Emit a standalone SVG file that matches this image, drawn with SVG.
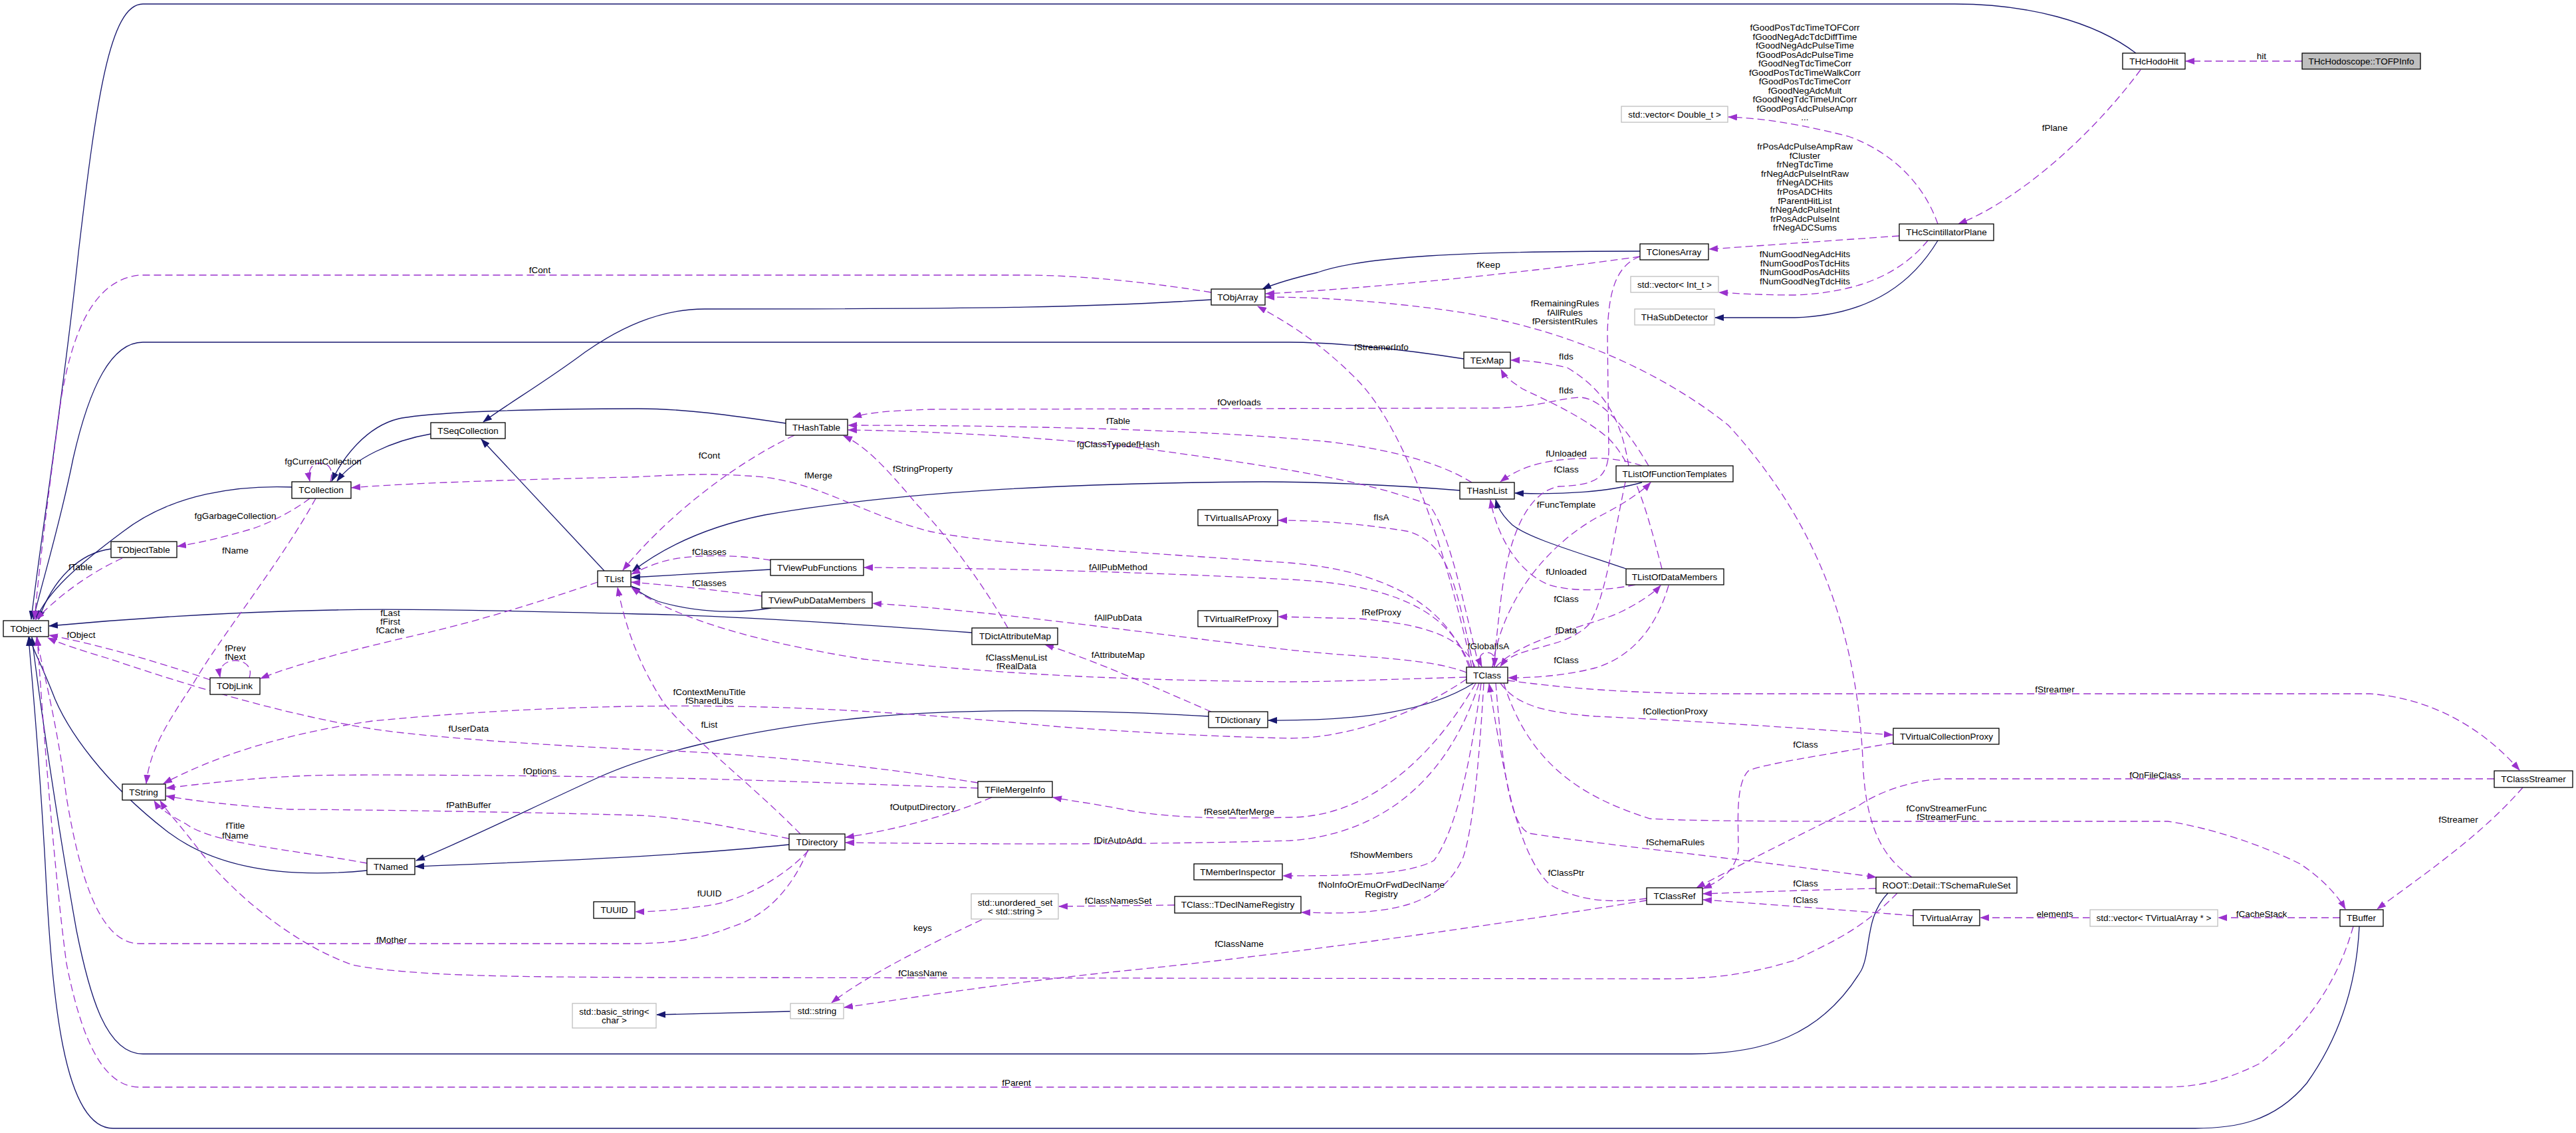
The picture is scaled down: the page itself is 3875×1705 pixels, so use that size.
<svg xmlns="http://www.w3.org/2000/svg" width="3875" height="1705" viewBox="0 0 3875 1705">
<defs>
<marker id="ab" viewBox="0 0 14 10" refX="13" refY="5" markerWidth="14" markerHeight="10" markerUnits="userSpaceOnUse" orient="auto"><path d="M0,0 L14,5 L0,10 z" fill="#191970" stroke="none"/></marker>
<marker id="ap" viewBox="0 0 14 10" refX="13" refY="5" markerWidth="14" markerHeight="10" markerUnits="userSpaceOnUse" orient="auto"><path d="M0,0 L14,5 L0,10 z" fill="#9a32cd" stroke="none"/></marker>
<style>
text{font-family:"Liberation Sans",Arial,Helvetica,sans-serif;font-size:13.5px;fill:#000;text-anchor:middle}
.n rect{fill:#fff;stroke:#000;stroke-width:1.3}
.g rect{fill:#fff;stroke:#bfbfbf;stroke-width:1.3}
.h rect{fill:#bfbfbf;stroke:#000;stroke-width:1.3}
.inh{fill:none;stroke:#191970;stroke-width:1.3;marker-end:url(#ab)}
.use{fill:none;stroke:#9a32cd;stroke-width:1.3;stroke-dasharray:11,6;marker-end:url(#ap)}
</style>
</defs>
<rect width="3875" height="1705" fill="#fff"/>
<g id="connectors">
<path class="inh" d="M3213,80 C3150,32 3050,6 2940,6 L215,6 C165,6 145,150 118,380 C95,600 60,820 47,932"/>
<path class="inh" d="M2202,540 C2100,524 2000,515 1940,515 L215,515 C168,515 135,580 110,690 C90,790 65,870 50,932"/>
<path class="inh" d="M1822,451 C1650,462 1500,465 1060,465 C990,465 930,495 880,530 C820,575 760,610 727,635"/>
<path class="inh" d="M2467,378 C2200,378 2050,386 1982,410 C1940,420 1915,428 1899,435"/>
<path class="inh" d="M2915,362 C2880,420 2820,474 2700,478 L2580,478"/>
<path class="inh" d="M1182,637 C1100,625 1030,615 960,615 C800,615 650,620 600,630 C550,642 515,690 499,724"/>
<path class="inh" d="M648,653 C590,663 532,690 507,724"/>
<path class="inh" d="M439,733 C360,730 260,742 185,800 C115,852 72,890 54,932"/>
<path class="inh" d="M167,826 C120,832 80,870 58,932"/>
<path class="inh" d="M909,859 L724,661"/>
<path class="inh" d="M2196,738 C2100,730 1980,725 1900,725 C1600,727 1350,740 1150,775 C1050,795 990,830 951,860"/>
<path class="inh" d="M1159,857 L950,869"/>
<path class="inh" d="M1160,915 C1100,925 1040,920 990,905 C972,898 960,890 950,882"/>
<path class="inh" d="M1462,952 C1300,940 1100,926 960,924 C800,920 600,915 500,918 C300,922 150,935 74,942"/>
<path class="inh" d="M1818,1078 C1650,1068 1450,1065 1300,1080 C1150,1095 1000,1125 900,1170 C780,1225 700,1265 626,1295"/>
<path class="inh" d="M2217,1028 C2150,1070 2050,1085 1908,1084"/>
<path class="inh" d="M552,1310 C470,1318 340,1320 250,1250 C160,1180 100,1100 78,1040 C60,995 50,978 44,959"/>
<path class="inh" d="M1187,1271 C1000,1290 800,1297 625,1304"/>
<path class="inh" d="M2840,1344 C2805,1380 2815,1430 2800,1460 C2740,1560 2650,1586 2545,1586 L215,1586 C160,1586 135,1500 115,1400 C90,1260 60,1060 48,959"/>
<path class="inh" d="M3549,1394 C3545,1480 3520,1560 3470,1630 C3420,1690 3360,1698 3300,1698 L170,1698 C95,1698 78,1500 68,1300 C58,1120 46,1000 43,959"/>
<path class="inh" d="M2470,726 C2420,740 2350,745 2279,742"/>
<path class="inh" d="M2446,856 C2370,830 2300,810 2275,790 C2260,776 2253,765 2250,752"/>
<path class="inh" d="M1189,1522 L988,1527"/>

<path class="use" d="M3463,92 L3288,92"/>
<path class="use" d="M3220,105 C3150,200 3040,300 2946,337"/>
<path class="use" d="M2915,337 C2895,280 2850,230 2780,205 C2700,185 2650,178 2600,176"/>
<path class="use" d="M2857,355 L2571,375"/>
<path class="use" d="M2900,362 C2860,410 2800,440 2700,444 C2650,444 2620,442 2586,440"/>
<path class="use" d="M2467,386 C2300,410 2050,435 1904,442"/>
<path class="use" d="M2876,1320 C2830,1290 2805,1240 2802,1140 C2790,900 2700,750 2600,640 C2500,560 2350,490 2170,466 C2050,450 1960,447 1904,447"/>
<path class="use" d="M2214,1004 C2180,850 2120,650 2040,570 C1980,510 1930,482 1892,461"/>
<path class="use" d="M1822,440 C1700,420 1600,414 1540,414 L210,414 C150,420 112,480 92,600 C72,750 58,860 52,932"/>
<path class="use" d="M2480,701 C2450,650 2410,598 2376,598 C2340,600 2320,612 2250,614 L1400,616 C1340,618 1310,620 1283,628"/>
<path class="use" d="M2214,726 C2180,705 2120,680 2000,665 C1800,645 1500,640 1276,640"/>
<path class="use" d="M2225,1004 C2200,900 2180,800 2150,760 C2050,720 1900,700 1700,672 C1500,652 1350,648 1276,647"/>
<path class="use" d="M1195,655 C1100,700 1000,780 937,858"/>
<path class="use" d="M1516,945 C1480,880 1420,800 1380,760 C1330,700 1300,670 1269,656"/>
<path class="use" d="M2210,1004 C2180,920 2100,860 1940,847 C1700,830 1500,820 1400,800 C1300,775 1240,730 1150,718 C1060,710 1000,716 950,718 C750,722 600,728 529,734"/>
<path class="use" d="M1159,843 C1100,833 1030,835 997,845 C975,852 962,858 950,864"/>
<path class="use" d="M1146,897 C1080,888 1000,880 950,876"/>
<path class="use" d="M2212,1004 C2180,920 2100,880 1940,872 C1700,860 1500,855 1300,854"/>
<path class="use" d="M2206,1012 C2150,990 2050,990 1940,978 C1700,950 1500,920 1313,908"/>
<path class="use" d="M2217,1004 C2190,880 2180,820 2120,800 C2050,788 1980,783 1923,783"/>
<path class="use" d="M2219,1004 C2200,960 2150,940 2045,931 L1923,928"/>
<path class="use" d="M2206,1019 C2100,1022 2000,1026 1940,1026 C1700,1024 1500,1015 1300,992 C1100,960 1000,920 950,884"/>
<path class="use" d="M1822,1071 C1750,1040 1650,995 1572,970"/>
<path class="use" d="M2206,1022 C2150,1060 2050,1110 1940,1111 C1800,1108 1650,1098 1585,1093 C1450,1080 1300,1068 1150,1064 C1000,1060 800,1062 560,1085 C420,1105 320,1140 246,1179"/>
<path class="use" d="M1471,1178 C1300,1150 1100,1132 960,1128 C800,1120 650,1110 560,1097 C400,1070 250,1020 160,990 C110,975 88,967 72,960"/>
<path class="use" d="M1204,1255 C1130,1180 1050,1120 1000,1060 C960,1000 940,940 929,884"/>
<path class="use" d="M1215,1280 C1190,1340 1150,1380 1100,1395 C1050,1415 1000,1420 950,1420 L210,1420 C150,1420 120,1320 100,1200 C85,1080 62,1000 55,959"/>
<path class="use" d="M1216,1280 C1180,1320 1110,1360 1054,1364 C1010,1370 980,1372 956,1372"/>
<path class="use" d="M1187,1262 C1100,1245 1030,1230 960,1227 C800,1222 500,1218 437,1218 C350,1212 290,1205 250,1198"/>
<path class="use" d="M1471,1186 C1300,1180 1100,1172 960,1170 C800,1167 550,1165 470,1167 C380,1170 300,1180 250,1186"/>
<path class="use" d="M1492,1200 C1420,1230 1340,1250 1272,1260"/>
<path class="use" d="M2220,1028 C2150,1150 2050,1230 1940,1230 C1850,1232 1770,1232 1700,1220 C1650,1210 1610,1205 1584,1200"/>
<path class="use" d="M2225,1028 C2170,1200 2050,1258 1940,1265 C1700,1272 1450,1270 1272,1268"/>
<path class="use" d="M2228,1028 C2212,1150 2190,1250 2157,1295 C2120,1315 2050,1318 1930,1318"/>
<path class="use" d="M2232,1028 C2225,1150 2215,1250 2201,1290 C2170,1360 2100,1374 2000,1374 L1958,1373"/>
<path class="use" d="M1767,1362 L1593,1364"/>
<path class="use" d="M1477,1384 C1400,1420 1300,1470 1251,1509"/>
<path class="use" d="M2477,1355 C2200,1400 1900,1440 1700,1460 C1500,1480 1350,1505 1270,1516"/>
<path class="use" d="M2854,1344 C2800,1400 2750,1420 2700,1445 C2620,1470 2560,1473 2500,1473 L980,1471 C800,1470 620,1470 530,1452 C440,1420 350,1344 300,1280 C270,1240 250,1220 241,1205"/>
<path class="use" d="M552,1299 C450,1280 320,1270 280,1240 C252,1225 238,1215 232,1205"/>
<path class="use" d="M475,750 C420,850 330,960 290,1030 C250,1090 225,1130 220,1179"/>
<path class="use" d="M466,750 C440,770 400,790 375,797 C330,810 295,818 267,822"/>
<path class="use" d="M497,725 C503,702 491,697 482,697 C471,697 462,705 466,724"/>
<path class="use" d="M184,840 C150,855 100,885 54,932"/>
<path class="use" d="M316,1023 C250,1000 150,970 74,956"/>
<path class="use" d="M375,1020 C381,1002 366,994 354,994 C340,994 328,1003 331,1019"/>
<path class="use" d="M899,876 C800,910 700,940 625,956 C500,985 430,1005 392,1021"/>
<path class="use" d="M2450,701 C2440,640 2420,590 2357,553 C2320,545 2295,542 2273,542"/>
<path class="use" d="M2500,856 C2480,780 2460,700 2420,660 C2380,625 2320,600 2290,585 C2272,573 2263,566 2258,556"/>
<path class="use" d="M2470,701 C2440,690 2400,688 2389,690 C2330,690 2290,700 2257,725"/>
<path class="use" d="M2467,386 C2430,400 2420,440 2418,500 L2420,680 C2418,720 2400,730 2345,732 C2300,740 2270,800 2258,900 C2252,950 2249,980 2248,1003"/>
<path class="use" d="M2245,1004 C2260,900 2330,820 2400,780 C2440,760 2470,740 2483,726"/>
<path class="use" d="M2460,880 C2420,888 2370,892 2330,880 C2280,860 2250,800 2242,752"/>
<path class="use" d="M2445,725 C2425,820 2415,900 2390,940 C2350,980 2280,970 2257,1003"/>
<path class="use" d="M2250,1004 C2290,960 2400,940 2440,920 C2470,905 2490,890 2498,881"/>
<path class="use" d="M2510,881 C2490,950 2450,990 2400,1005 C2350,1018 2300,1020 2269,1020"/>
<path class="use" d="M2268,1024 C2350,1035 2450,1044 2600,1044 L3565,1044 C3650,1050 3730,1090 3790,1159"/>
<path class="use" d="M2257,1028 C2280,1060 2320,1072 2400,1078 C2550,1085 2700,1095 2847,1106"/>
<path class="use" d="M2848,1118 C2750,1135 2650,1150 2630,1160 C2610,1180 2615,1240 2615,1280 C2610,1310 2590,1325 2562,1337"/>
<path class="use" d="M2262,1028 C2300,1150 2380,1200 2482,1232 C2550,1236 2700,1236 2900,1236 L3261,1236 C3350,1250 3430,1285 3460,1300 C3490,1320 3515,1345 3528,1368"/>
<path class="use" d="M3795,1185 C3730,1260 3640,1320 3576,1368"/>
<path class="use" d="M3752,1172 L2920,1172 C2870,1175 2820,1195 2795,1213 C2700,1260 2620,1300 2552,1336"/>
<path class="use" d="M2822,1337 C2700,1340 2620,1343 2562,1345"/>
<path class="use" d="M2878,1378 C2780,1370 2650,1360 2562,1354"/>
<path class="use" d="M3144,1381 L2979,1381"/>
<path class="use" d="M3520,1381 L3337,1381"/>
<path class="use" d="M3540,1394 C3510,1500 3450,1560 3400,1600 C3340,1630 3300,1636 3250,1636 L210,1636 C150,1636 120,1550 100,1450 C80,1300 62,1050 56,959"/>
<path class="use" d="M2250,1028 C2260,1150 2270,1240 2300,1254 C2400,1270 2600,1290 2822,1320"/>
<path class="use" d="M2477,1352 C2420,1360 2370,1355 2330,1330 C2280,1280 2260,1150 2240,1029"/>
<path class="use" d="M2245,1004 C2252,986 2244,982 2237,982 C2229,982 2222,988 2229,1003"/>
</g>
<g id="edge-labels">
<text x="3402" y="89">hit</text>
<text x="3091" y="197">fPlane</text>
<text x="2715" y="46">fGoodPosTdcTimeTOFCorr</text>
<text x="2715" y="59.5">fGoodNegAdcTdcDiffTime</text>
<text x="2715" y="73">fGoodNegAdcPulseTime</text>
<text x="2715" y="86.5">fGoodPosAdcPulseTime</text>
<text x="2715" y="100">fGoodNegTdcTimeCorr</text>
<text x="2715" y="113.5">fGoodPosTdcTimeWalkCorr</text>
<text x="2715" y="127">fGoodPosTdcTimeCorr</text>
<text x="2715" y="140.5">fGoodNegAdcMult</text>
<text x="2715" y="154">fGoodNegTdcTimeUnCorr</text>
<text x="2715" y="167.5">fGoodPosAdcPulseAmp</text>
<text x="2715" y="181">...</text>
<text x="2715" y="225">frPosAdcPulseAmpRaw</text>
<text x="2715" y="238.6">fCluster</text>
<text x="2715" y="252.2">frNegTdcTime</text>
<text x="2715" y="265.8">frNegAdcPulseIntRaw</text>
<text x="2715" y="279.4">frNegADCHits</text>
<text x="2715" y="293">frPosADCHits</text>
<text x="2715" y="306.6">fParentHitList</text>
<text x="2715" y="320.2">frNegAdcPulseInt</text>
<text x="2715" y="333.8">frPosAdcPulseInt</text>
<text x="2715" y="347.4">frNegADCSums</text>
<text x="2715" y="361">...</text>
<text x="2715" y="387">fNumGoodNegAdcHits</text>
<text x="2715" y="400.6">fNumGoodPosTdcHits</text>
<text x="2715" y="414.2">fNumGoodPosAdcHits</text>
<text x="2715" y="427.8">fNumGoodNegTdcHits</text>
<text x="2239" y="403">fKeep</text>
<text x="2354" y="461">fRemainingRules</text>
<text x="2354" y="474.5">fAllRules</text>
<text x="2354" y="488">fPersistentRules</text>
<text x="2078" y="527">fStreamerInfo</text>
<text x="2356" y="541">fIds</text>
<text x="812" y="411">fCont</text>
<text x="1864" y="610">fOverloads</text>
<text x="2356" y="592">fIds</text>
<text x="1682" y="638">fTable</text>
<text x="1682" y="673">fgClassTypedefHash</text>
<text x="2356" y="687">fUnloaded</text>
<text x="1067" y="690">fCont</text>
<text x="486" y="699">fgCurrentCollection</text>
<text x="1388" y="710">fStringProperty</text>
<text x="2356" y="711">fClass</text>
<text x="1231" y="720">fMerge</text>
<text x="2356" y="764">fFuncTemplate</text>
<text x="354" y="781">fgGarbageCollection</text>
<text x="2078" y="783">fIsA</text>
<text x="354" y="833">fName</text>
<text x="1067" y="835">fClasses</text>
<text x="1682" y="858">fAllPubMethod</text>
<text x="121" y="858">fTable</text>
<text x="2356" y="865">fUnloaded</text>
<text x="1067" y="882">fClasses</text>
<text x="2356" y="906">fClass</text>
<text x="2078" y="926">fRefProxy</text>
<text x="587" y="927">fLast</text>
<text x="587" y="940">fFirst</text>
<text x="587" y="953">fCache</text>
<text x="1682" y="934">fAllPubData</text>
<text x="2356" y="953">fData</text>
<text x="122" y="960">fObject</text>
<text x="2239" y="977">fGlobalIsA</text>
<text x="354" y="980">fPrev</text>
<text x="354" y="993">fNext</text>
<text x="1682" y="990">fAttributeMap</text>
<text x="1529" y="994">fClassMenuList</text>
<text x="1529" y="1007">fRealData</text>
<text x="2356" y="998">fClass</text>
<text x="3091" y="1042">fStreamer</text>
<text x="1067" y="1046">fContextMenuTitle</text>
<text x="1067" y="1059">fSharedLibs</text>
<text x="2520" y="1075">fCollectionProxy</text>
<text x="1067" y="1095">fList</text>
<text x="705" y="1101">fUserData</text>
<text x="2716" y="1125">fClass</text>
<text x="812" y="1165">fOptions</text>
<text x="3242" y="1171">fOnFileClass</text>
<text x="705" y="1216">fPathBuffer</text>
<text x="1388" y="1219">fOutputDirectory</text>
<text x="2928" y="1221">fConvStreamerFunc</text>
<text x="2928" y="1234">fStreamerFunc</text>
<text x="1864" y="1226">fResetAfterMerge</text>
<text x="3698" y="1238">fStreamer</text>
<text x="354" y="1247">fTitle</text>
<text x="354" y="1262">fName</text>
<text x="1682" y="1269">fDirAutoAdd</text>
<text x="2520" y="1272">fSchemaRules</text>
<text x="2078" y="1291">fShowMembers</text>
<text x="2356" y="1318">fClassPtr</text>
<text x="2716" y="1334">fClass</text>
<text x="2078" y="1336">fNoInfoOrEmuOrFwdDeclName</text>
<text x="2078" y="1350">Registry</text>
<text x="1067" y="1349">fUUID</text>
<text x="2716" y="1359">fClass</text>
<text x="1682" y="1360">fClassNamesSet</text>
<text x="3091" y="1380">elements</text>
<text x="3402" y="1380">fCacheStack</text>
<text x="1388" y="1401">keys</text>
<text x="589" y="1419">fMother</text>
<text x="1864" y="1425">fClassName</text>
<text x="1388" y="1469">fClassName</text>
<text x="1529" y="1634">fParent</text>
</g>
<g id="n-TOFPInfo" class="h"><rect x="3463" y="80" width="178" height="24"/><text x="3552" y="96.7">THcHodoscope::TOFPInfo</text></g>
<g id="n-THcHodoHit" class="n"><rect x="3193" y="80" width="94" height="24"/><text x="3240" y="96.7">THcHodoHit</text></g>
<g id="n-THcScintillatorPlane" class="n"><rect x="2857" y="337" width="142" height="25"/><text x="2928" y="354.2">THcScintillatorPlane</text></g>
<g id="n-vectorDouble" class="g"><rect x="2439" y="160" width="160" height="24"/><text x="2519" y="176.7">std::vector&lt; Double_t &gt;</text></g>
<g id="n-TClonesArray" class="n"><rect x="2467" y="367" width="103" height="24"/><text x="2518" y="383.7">TClonesArray</text></g>
<g id="n-vectorInt" class="g"><rect x="2453" y="416" width="132" height="24"/><text x="2519" y="432.7">std::vector&lt; Int_t &gt;</text></g>
<g id="n-THaSubDetector" class="g"><rect x="2459" y="465" width="120" height="24"/><text x="2519" y="481.7">THaSubDetector</text></g>
<g id="n-TObjArray" class="n"><rect x="1822" y="435" width="81" height="24"/><text x="1862" y="451.7">TObjArray</text></g>
<g id="n-TExMap" class="n"><rect x="2202" y="530" width="70" height="24"/><text x="2237" y="546.7">TExMap</text></g>
<g id="n-TSeqCollection" class="n"><rect x="648" y="636" width="112" height="24"/><text x="704" y="652.7">TSeqCollection</text></g>
<g id="n-TCollection" class="n"><rect x="439" y="725" width="89" height="25"/><text x="483" y="742.2">TCollection</text></g>
<g id="n-TObjectTable" class="n"><rect x="167" y="815" width="99" height="24"/><text x="216" y="831.7">TObjectTable</text></g>
<g id="n-TObject" class="n"><rect x="5" y="934" width="68" height="24"/><text x="39" y="950.7">TObject</text></g>
<g id="n-TList" class="n"><rect x="899" y="859" width="50" height="24"/><text x="924" y="875.7">TList</text></g>
<g id="n-TObjLink" class="n"><rect x="316" y="1020" width="75" height="25"/><text x="353" y="1037.2">TObjLink</text></g>
<g id="n-THashTable" class="n"><rect x="1182" y="631" width="93" height="24"/><text x="1228" y="647.7">THashTable</text></g>
<g id="n-TVirtualIsAProxy" class="n"><rect x="1802" y="767" width="120" height="24"/><text x="1862" y="783.7">TVirtualIsAProxy</text></g>
<g id="n-TViewPubFunctions" class="n"><rect x="1159" y="842" width="140" height="24"/><text x="1229" y="858.7">TViewPubFunctions</text></g>
<g id="n-TViewPubDataMembers" class="n"><rect x="1146" y="891" width="166" height="24"/><text x="1229" y="907.7">TViewPubDataMembers</text></g>
<g id="n-TVirtualRefProxy" class="n"><rect x="1802" y="919" width="120" height="24"/><text x="1862" y="935.7">TVirtualRefProxy</text></g>
<g id="n-TDictAttributeMap" class="n"><rect x="1462" y="945" width="129" height="25"/><text x="1527" y="962.2">TDictAttributeMap</text></g>
<g id="n-TDictionary" class="n"><rect x="1818" y="1071" width="89" height="24"/><text x="1862" y="1087.7">TDictionary</text></g>
<g id="n-TListOfFunctionTemplates" class="n"><rect x="2431" y="701" width="176" height="24"/><text x="2519" y="717.7">TListOfFunctionTemplates</text></g>
<g id="n-THashList" class="n"><rect x="2196" y="726" width="82" height="25"/><text x="2237" y="743.2">THashList</text></g>
<g id="n-TListOfDataMembers" class="n"><rect x="2446" y="856" width="147" height="24"/><text x="2519" y="872.7">TListOfDataMembers</text></g>
<g id="n-TClass" class="n"><rect x="2206" y="1004" width="62" height="24"/><text x="2237" y="1020.7">TClass</text></g>
<g id="n-TVirtualCollectionProxy" class="n"><rect x="2848" y="1096" width="159" height="24"/><text x="2928" y="1112.7">TVirtualCollectionProxy</text></g>
<g id="n-TString" class="n"><rect x="184" y="1180" width="65" height="24"/><text x="216" y="1196.7">TString</text></g>
<g id="n-TNamed" class="n"><rect x="552" y="1292" width="72" height="24"/><text x="588" y="1308.7">TNamed</text></g>
<g id="n-TUUID" class="n"><rect x="893" y="1357" width="62" height="25"/><text x="924" y="1374.2">TUUID</text></g>
<g id="n-basic_string" class="g"><rect x="861" y="1510" width="126" height="37"/><text x="924" y="1526.5">std::basic_string&lt;</text><text x="924" y="1539.5">char &gt;</text></g>
<g id="n-TFileMergeInfo" class="n"><rect x="1471" y="1176" width="112" height="24"/><text x="1527" y="1192.7">TFileMergeInfo</text></g>
<g id="n-TDirectory" class="n"><rect x="1187" y="1255" width="84" height="24"/><text x="1229" y="1271.7">TDirectory</text></g>
<g id="n-TMemberInspector" class="n"><rect x="1796" y="1300" width="133" height="24"/><text x="1862" y="1316.7">TMemberInspector</text></g>
<g id="n-unordered_set" class="g"><rect x="1461" y="1345" width="131" height="38"/><text x="1527" y="1362.5">std::unordered_set</text><text x="1527" y="1376">&lt; std::string &gt;</text></g>
<g id="n-TDeclNameRegistry" class="n"><rect x="1767" y="1349" width="190" height="25"/><text x="1862" y="1366.2">TClass::TDeclNameRegistry</text></g>
<g id="n-stdstring" class="g"><rect x="1189" y="1510" width="80" height="23"/><text x="1229" y="1526.2">std::string</text></g>
<g id="n-TClassRef" class="n"><rect x="2477" y="1336" width="84" height="25"/><text x="2519" y="1353.2">TClassRef</text></g>
<g id="n-TSchemaRuleSet" class="n"><rect x="2822" y="1320" width="212" height="24"/><text x="2928" y="1336.7">ROOT::Detail::TSchemaRuleSet</text></g>
<g id="n-TVirtualArray" class="n"><rect x="2878" y="1369" width="100" height="24"/><text x="2928" y="1385.7">TVirtualArray</text></g>
<g id="n-TClassStreamer" class="n"><rect x="3752" y="1160" width="118" height="25"/><text x="3811" y="1177.2">TClassStreamer</text></g>
<g id="n-TBuffer" class="n"><rect x="3520" y="1369" width="65" height="25"/><text x="3552" y="1386.2">TBuffer</text></g>
<g id="n-vectorTVirtualArray" class="g"><rect x="3144" y="1369" width="192" height="25"/><text x="3240" y="1386.2">std::vector&lt; TVirtualArray * &gt;</text></g>
</svg>
